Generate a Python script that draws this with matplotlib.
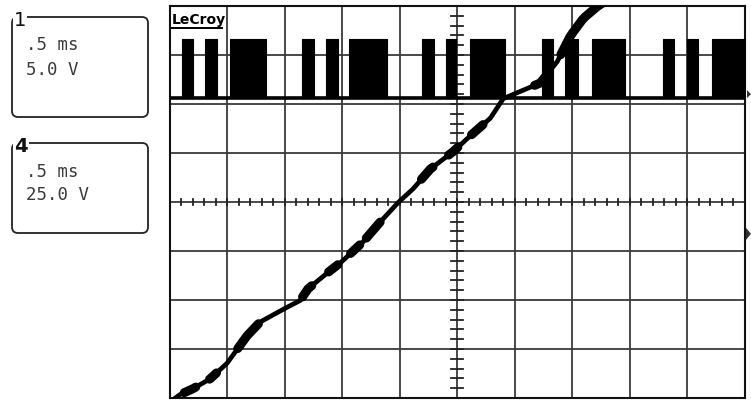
import numpy as np
import matplotlib
matplotlib.use("Agg")
import matplotlib.pyplot as plt
from matplotlib.patches import FancyBboxPatch, Polygon

# Scope settings
time_per_div_ms = 0.5
n_xdiv = 10
n_ydiv = 8
ch1_volts_per_div = 5.0
ch4_volts_per_div = 25.0

# Channel 1: switching bursts (ms) and logic levels (V)
ch1_burst_start = [0.109, 0.309, 0.526, 1.152, 1.361, 1.561, 2.196, 2.404,
                   2.613, 3.239, 3.439, 3.674, 4.291, 4.500, 4.717]
ch1_burst_end = [0.204, 0.413, 0.839, 1.257, 1.465, 1.891, 2.300, 2.491,
                 2.917, 3.335, 3.552, 3.961, 4.387, 4.596, 5.000]
ch1_low_v = 0.0
ch1_high_v = 6.0
ch1_offset_div = 2.12

# Channel 4: ramp (ms, V)
ch4_t = [0.000, 0.091, 0.204, 0.352, 0.500, 0.587, 0.674, 0.787, 1.004, 1.135,
         1.204, 1.370, 1.500, 1.683, 1.830, 1.987, 2.117, 2.265, 2.465, 2.613,
         2.787, 2.900, 3.222, 3.370, 3.483, 3.596, 3.717, 3.874]
ch4_v = [-86, -82, -79, -74, -66, -59, -52, -45, -38, -34,
         -28, -20, -14, -4, 6, 16, 23, 33, 42, 50,
         59, 69, 77, 88, 101, 110, 116, 122]
ch4_offset_div = -0.65
# Ripple bursts riding on the ramp: centre time and half-width (ms)
ch4_blob_t = [0.178, 0.378, 0.683, 1.196, 1.422, 1.613, 1.770, 2.239, 2.465, 2.674, 3.222, 3.650]
ch4_blob_half = [0.05, 0.03, 0.09, 0.04, 0.04, 0.04, 0.06, 0.05, 0.04, 0.05, 0.05, 0.25]

W, H = 751, 401
fig = plt.figure(figsize=(W / 100, H / 100), dpi=100)
fig.patch.set_facecolor("white")

# Graticule area (pixel geometry)
gx0, gx1, gy0, gy1 = 169.5, 745.0, 6.0, 398.0
ax = fig.add_axes([gx0 / W, 1 - gy1 / H, (gx1 - gx0) / W, (gy1 - gy0) / H])
t_max = n_xdiv * time_per_div_ms
ax.set_xlim(0, t_max)
ax.set_ylim(-n_ydiv / 2, n_ydiv / 2)
ax.set_xticks([])
ax.set_yticks([])
for s in ax.spines.values():
    s.set_linewidth(1.5)
    s.set_color("#111111")

grid_col = "#3a3a3a"
for i in range(1, n_xdiv):
    ax.axvline(i * time_per_div_ms, color=grid_col, lw=1.3, zorder=1)
for j in range(1, n_ydiv):
    ax.axhline(j - n_ydiv / 2, color=grid_col, lw=1.3, zorder=1)

# Centre-axis minor ticks
tc = t_max / 2
for t in np.arange(0, t_max + 1e-9, time_per_div_ms / 5):
    ax.plot([t, t], [-0.07, 0.07], color="#222222", lw=1.3, zorder=1)
for d in np.arange(-n_ydiv / 2, n_ydiv / 2 + 1e-9, 0.2):
    ax.plot([tc - 0.05, tc + 0.05], [d, d], color="#222222", lw=1.3, zorder=1)

# Channel 1 trace
base = ch1_offset_div + ch1_low_v / ch1_volts_per_div
top = ch1_offset_div + ch1_high_v / ch1_volts_per_div
ax.plot([0, t_max], [base, base], color="black", lw=2.6, zorder=3)
for s, e in zip(ch1_burst_start, ch1_burst_end):
    ax.fill_between([s, e], base, top, color="black", lw=0.8, zorder=3)

# Channel 4 trace
t4 = np.array(ch4_t)
y4 = ch4_offset_div + np.array(ch4_v) / ch4_volts_per_div
ax.plot(t4, y4, color="black", lw=3.4, solid_capstyle="round",
        solid_joinstyle="round", zorder=4)
for c, hw in zip(ch4_blob_t, ch4_blob_half):
    tt = np.linspace(c - hw, c + hw, 20)
    ax.plot(tt, np.interp(tt, t4, y4), color="black", lw=6.5,
            solid_capstyle="round", zorder=4)

# Overlay in pixel coordinates for annotation boxes
ov = fig.add_axes([0, 0, 1, 1])
ov.set_xlim(0, W)
ov.set_ylim(H, 0)
ov.axis("off")
ov.patch.set_alpha(0)

for (bx, by, bw, bh) in [(12, 17, 136, 100), (12, 143, 136, 90)]:
    ov.add_patch(FancyBboxPatch((bx, by), bw, bh,
                                boxstyle="round,pad=0,rounding_size=6",
                                fc="none", ec="#222222", lw=1.3))

txt_kw = dict(family="DejaVu Sans Mono", fontsize=12.5, color="#3a3a3a", va="baseline")
ov.text(26, 50, ".5 ms", **txt_kw)
ov.text(26, 75, "5.0 V", **txt_kw)
ov.text(26, 177, ".5 ms", **txt_kw)
ov.text(26, 200, "25.0 V", **txt_kw)

ov.text(20, 21, "1", fontsize=14, color="#111111", ha="center", va="center",
        bbox=dict(fc="white", ec="none", pad=0.5))
ov.text(21, 147, "4", fontsize=14, fontweight="bold", color="#111111",
        ha="center", va="center", bbox=dict(fc="white", ec="none", pad=0.5))

# Brand label
ov.text(172, 24, "LeCroy", fontsize=10, fontweight="bold", color="black",
        va="baseline", ha="left")
ov.plot([172, 222], [28, 28], color="black", lw=1.4)

# Channel offset markers on the right edge
def ypix(div):
    return gy0 + (n_ydiv / 2 - div) / n_ydiv * (gy1 - gy0)

y1m = ypix(ch1_offset_div) - 4
ov.add_patch(Polygon([[747, y1m - 4], [751, y1m], [747, y1m + 4]], closed=True,
                     fc="#333333", ec="none"))
y4m = ypix(ch4_offset_div)
ov.add_patch(Polygon([[746, y4m - 6], [751, y4m], [746, y4m + 6]], closed=True,
                     fc="#333333", ec="none"))

fig.savefig("out.png", dpi=100, facecolor="white")
